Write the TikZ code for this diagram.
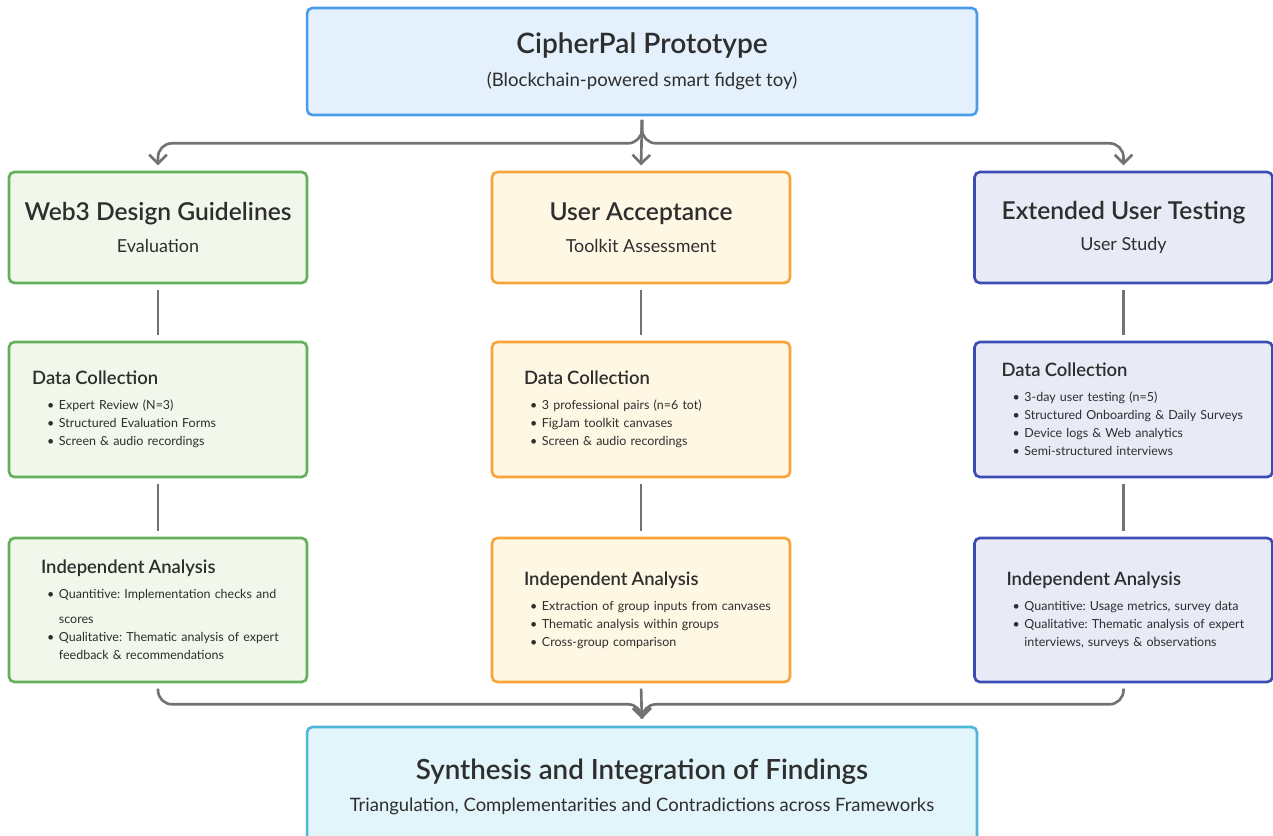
\documentclass[tikz,border=0pt]{standalone}
\usepackage{fontspec}
\setmainfont{Lato}[BoldFont={Lato Semibold}]
\usetikzlibrary{arrows.meta}
\frenchspacing

\definecolor{lnk}{HTML}{727272}
\definecolor{txt}{HTML}{2E2E2E}
\definecolor{blueline}{HTML}{4A9BEA}
\definecolor{bluefill}{HTML}{E4F1FC}
\definecolor{grnline}{HTML}{62B05A}
\definecolor{grnfill}{HTML}{F1F7EA}
\definecolor{orgline}{HTML}{F7A43A}
\definecolor{orgfill}{HTML}{FEF7E3}
\definecolor{indline}{HTML}{3D4CB5}
\definecolor{indfill}{HTML}{E8EAF6}
\definecolor{cynline}{HTML}{4DB8D8}
\definecolor{cynfill}{HTML}{E2F5FA}

\newcommand{\ttl}{\fontsize{14}{17}\selectfont\bfseries}
\newcommand{\sub}{\fontsize{10.2}{12}\selectfont}
\newcommand{\hd}[2][0pt]{\hspace*{#1}{\fontsize{10.5}{12}\selectfont\bfseries #2}}
\newcommand{\itm}[1]{\mbox{\hspace*{3.5pt}\makebox[6.7pt][l]{\textbullet}#1}}
\newcommand{\cnt}[1]{\mbox{\hspace*{10.2pt}#1}}

\begin{document}
\begin{tikzpicture}[x=0.02cm, y=-0.02cm, text=txt,
  box/.style={draw, line width=1.5pt, rounded corners=3pt, inner sep=0pt, align=center},
  head/.style={box, minimum width=5.96cm, minimum height=2.22cm},
  step box/.style={box, align=left, text width=4.68cm, minimum width=5.96cm,
    font=\fontsize{7.1}{10.2}\selectfont},
  wide/.style={box, minimum width=13.4cm},
  green/.style={draw=grnline, fill=grnfill},
  orange/.style={draw=orgline, fill=orgfill},
  indigo/.style={draw=indline, fill=indfill},
  link/.style={draw=lnk, line width=1.5pt, shorten <=3pt, shorten >=3pt},
  conn/.style={draw=lnk, line width=1.5pt, rounded corners=8pt,
    -{Straight Barb[length=5pt,width=10pt,line width=1.5pt]}}]

  \clip (0,0) rectangle (1273,835);

  \node[wide, draw=blueline, fill=bluefill, minimum height=2.14cm] (proto) at (642,61.5)
    {{\fontsize{16}{19}\selectfont\bfseries CipherPal Prototype}\\[7pt]
     {\fontsize{10.6}{12}\selectfont (Blockchain-powered smart fidget toy)}};

  \node[head, green] (web) at (158,227.5)
    {{\ttl Web3 Design Guidelines}\\[6pt]{\sub Evaluation}};
  \node[head, orange] (acc) at (641,227.5)
    {{\ttl User Acceptance}\\[6pt]{\sub Toolkit Assessment}};
  \node[head, indigo] (ext) at (1123.5,227.5)
    {{\ttl Extended User Testing}\\[6pt]{\sub User Study}};

  \node[step box, green, minimum height=2.7cm] (webdata) at (158,409.5)
    {\hd[-5pt]{Data Collection}\\[4pt]
     \itm{Expert Review (N=3)}\\
     \itm{Structured Evaluation Forms}\\
     \itm{Screen \& audio recordings}};
  \node[step box, orange, minimum height=2.7cm] (accdata) at (641,409.5)
    {\hd{Data Collection}\\[4pt]
     \itm{3 professional pairs (n=6 tot)}\\
     \itm{FigJam toolkit canvases}\\
     \itm{Screen \& audio recordings}};
  \node[step box, indigo, minimum height=2.7cm] (extdata) at (1123.5,409.5)
    {\hd[-2.8pt]{Data Collection}\\[4pt]
     \itm{3-day user testing (n=5)}\\
     \itm{Structured Onboarding \& Daily Surveys}\\
     \itm{Device logs \& Web analytics}\\
     \itm{Semi-structured interviews}};

  \node[step box, green, minimum height=2.88cm] (webana) at (158,610)
    {\hd{Independent Analysis}\\[4pt]
     \itm{Quantitive: Implementation checks and}\\[4pt]
     \cnt{scores}\\
     \itm{Qualitative: Thematic analysis of expert}\\
     \cnt{feedback \& recommendations}};
  \node[step box, orange, minimum height=2.88cm] (accana) at (641,610)
    {\hd{Independent Analysis}\\[4pt]
     \itm{Extraction of group inputs from canvases}\\
     \itm{Thematic analysis within groups}\\
     \itm{Cross-group comparison}};
  \node[step box, indigo, minimum height=2.88cm] (extana) at (1123.5,610)
    {\hd{Independent Analysis}\\[4pt]
     \itm{Quantitive: Usage metrics, survey data}\\
     \itm{Qualitative: Thematic analysis of expert}\\
     \cnt{interviews, surveys \& observations}};

  \node[wide, draw=cynline, fill=cynfill, minimum height=2.4cm] (syn) at (642,787)
    {{\fontsize{15.8}{18}\selectfont\bfseries Synthesis and Integration of Findings}\\[6pt]
     {\fontsize{10.5}{12}\selectfont Triangulation, Complementarities and Contradictions across Frameworks}};

  \draw[conn, shorten <=2pt, shorten >=3pt] (proto.south) -- (acc.north);
  \draw[conn, shorten <=2pt, shorten >=3pt] (proto.south) -- ++(0,27) -| (web.north);
  \draw[conn, shorten <=2pt, shorten >=3pt] (proto.south) -- ++(0,27) -| (ext.north);

  \foreach \col in {web,acc,ext} {
    \draw[link] (\col.south) -- (\col data.north);
    \draw[link] (\col data.south) -- (\col ana.north);
  }

  \draw[conn, shorten <=3pt, shorten >=4pt] (accana.south) -- (syn.north);
  \draw[conn, shorten <=3pt, shorten >=4pt] (webana.south) -- ++(0,21) -| (syn.north);
  \draw[conn, shorten <=3pt, shorten >=4pt] (extana.south) -- ++(0,21) -| (syn.north);
\end{tikzpicture}
\end{document}
